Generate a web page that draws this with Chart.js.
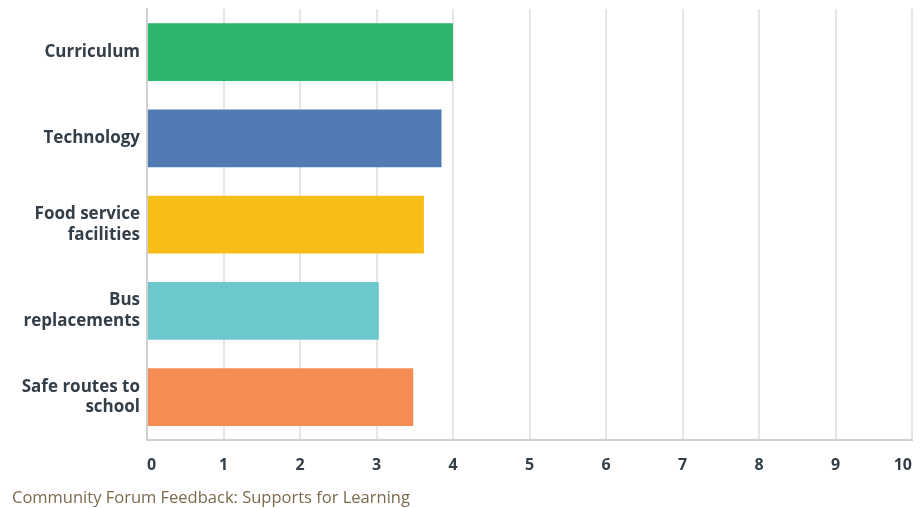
<!DOCTYPE html>
<html>
<head>
<meta charset="utf-8">
<script src="https://cdn.jsdelivr.net/npm/chart.js@4.4.1/dist/chart.umd.min.js"></script>
<style>
  html, body { margin: 0; padding: 0; background: #ffffff; }
  #wrap { width: 921px; height: 508px; position: relative; }
</style>
</head>
<body>
<div id="wrap"><canvas id="chart" width="921" height="508"></canvas></div>
<script>
// Support areas rated at the community forum
const categories = [
  "Curriculum",
  "Technology",
  ["Food service", "facilities"],
  ["Bus", "replacements"],
  ["Safe routes to", "school"]
];
const ratings = [4.0, 3.85, 3.62, 3.03, 3.48];
const barColors = ["#2db56d", "#517bb5", "#f6be17", "#6cc8cc", "#f68b53"];
const xTicks = [0, 1, 2, 3, 4, 5, 6, 7, 8, 9, 10];
const captionText = "Community Forum Feedback: Supports for Learning";

const labelColor = "#333e48";

new Chart(document.getElementById("chart"), {
  type: "bar",
  data: {
    labels: categories,
    datasets: [{
      data: ratings,
      backgroundColor: barColors,
      borderWidth: 0,
      barPercentage: 0.67,
      categoryPercentage: 1.0
    }]
  },
  options: {
    indexAxis: "y",
    responsive: false,
    animation: false,
    layout: { padding: { top: 9, right: 9, left: 12, bottom: 0 } },
    plugins: {
      legend: { display: false },
      tooltip: { enabled: false },
      title: {
        display: true,
        text: captionText,
        position: "bottom",
        align: "start",
        color: "#7b6a4c",
        font: { family: "Open Sans", size: 16.5, weight: "normal", lineHeight: 1.2 },
        padding: { top: 0, bottom: 0 }
      }
    },
    scales: {
      x: {
        min: 0,
        max: 10,
        afterBuildTicks: (axis) => { axis.ticks = xTicks.map(v => ({ value: v })); },
        afterFit: (axis) => {
          axis.height = 48;
          axis.paddingLeft = 0;
          axis.paddingRight = 0;
        },
        grid: { color: "#e6e6e6", lineWidth: 2, drawTicks: false },
        border: { color: "#d0d0d0", width: 2 },
        ticks: {
          color: labelColor,
          align: "inner",
          font: { family: "Open Sans", size: 16, weight: "bold" },
          padding: 16
        }
      },
      y: {
        afterFit: (axis) => {
          axis.width = 135;
          axis.paddingTop = 0;
          axis.paddingBottom = 0;
        },
        grid: { display: false, drawTicks: false },
        border: { color: "#d0d0d0", width: 2 },
        ticks: {
          color: labelColor,
          font: { family: "Open Sans", size: 17, weight: "bold", lineHeight: 1.2 },
          padding: 7
        }
      }
    }
  }
});
</script>
</body>
</html>
